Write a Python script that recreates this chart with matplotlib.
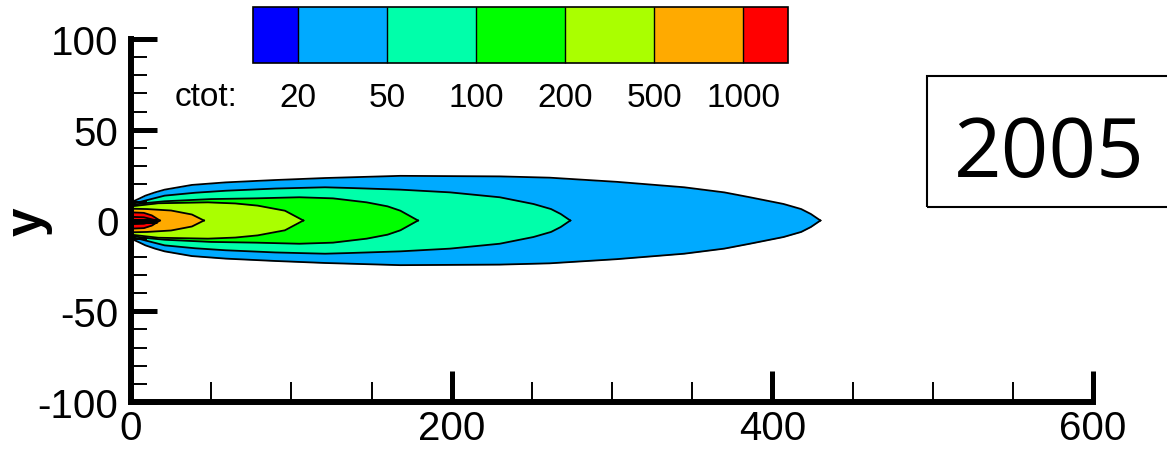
import numpy as np
import matplotlib.pyplot as plt
from matplotlib.colors import ListedColormap, BoundaryNorm
from matplotlib.cm import ScalarMappable
from matplotlib.patches import Rectangle
from matplotlib.ticker import MultipleLocator

plt.rcParams.update({"font.family": ["Liberation Sans", "DejaVu Sans"],
                     "axes.unicode_minus": False})

# ctot contour levels and their band colours (below 20 ... above 1000)
levels = [20, 50, 100, 200, 500, 1000]
band_colors = ["#0000FF", "#00AAFF", "#00FFAA", "#00FF00", "#AAFF00", "#FFAA00", "#FF0000"]
year = "2005"

# contour outlines, upper half (plume symmetric about y=0): x and half-width
c20_x = [0, 5, 9, 15, 21, 38, 59, 90, 121, 168, 230, 261, 303, 345, 370, 386, 407, 418, 424, 430]
c20_h = [10, 12, 13.7, 15.5, 17, 19.6, 21, 22.3, 23.4, 24.6, 24.3, 23.6, 21.3, 18.3, 15.5, 12.8, 9.1, 6.3, 3.6, 0]
c50_x = [0, 9, 21, 40, 59, 90, 121, 137, 168, 199, 230, 251, 262, 268, 274]
c50_h = [9, 11, 13.7, 15.3, 16.4, 17.6, 18.3, 17.9, 17, 15.5, 12.8, 9.1, 6.3, 3.6, 0]
c100_x = [0, 8, 21, 50, 78, 105, 126, 147, 160, 168, 179]
c100_h = [8.5, 9.5, 10.6, 11.8, 12.2, 12.8, 12.2, 10, 7.8, 5.4, 0]
c200_x = [0, 17, 48, 65, 79, 96, 107.5]
c200_h = [7.8, 9.5, 10, 9.4, 8.2, 5.4, 0]
c500_x = [0, 10, 25, 38, 45.5]
c500_h = [6.5, 6.3, 5.5, 3.3, 0]
c1000_x = [0, 8, 13, 18]
c1000_h = [4.5, 4.2, 2.8, 0]
core_x = [0, 8, 16]
core_h = [2.0, 1.8, 0]

W, H = 1167, 456
fig = plt.figure(figsize=(W / 100, H / 100), dpi=100)
ax = fig.add_axes([131 / W, 1 - 403 / H, 962 / W, 363 / H])

outlines = [(c20_x, c20_h), (c50_x, c50_h), (c100_x, c100_h), (c200_x, c200_h),
            (c500_x, c500_h), (c1000_x, c1000_h), (core_x, core_h)]
fills = band_colors[1:] + [band_colors[-1]]
for (xs, hs), col in zip(outlines, fills):
    xs, hs = np.asarray(xs, float), np.asarray(hs, float)
    ax.fill_between(xs, -hs, hs, color=col, lw=0, zorder=1)
    ax.plot(xs, hs, color="k", lw=1.3, zorder=1)
    ax.plot(xs, -hs, color="k", lw=1.3, zorder=1)

ax.set_xlim(0, 600)
ax.set_ylim(-100, 100)
ax.spines[["top", "right"]].set_visible(False)
for s in ("left", "bottom"):
    ax.spines[s].set_linewidth(4.3)
ax.set_xticks([0, 200, 400, 600])
ax.set_yticks([-100, -50, 0, 50, 100])
ax.xaxis.set_minor_locator(MultipleLocator(50))
ax.yaxis.set_minor_locator(MultipleLocator(10))
ax.tick_params(axis="x", which="major", direction="in", length=22, width=3.6, labelsize=29, pad=5)
ax.tick_params(axis="x", which="minor", direction="in", length=14.5, width=1.4)
ax.tick_params(axis="y", which="major", direction="in", length=19, width=3.6, labelsize=29, pad=9)
ax.tick_params(axis="y", which="minor", direction="in", length=11.5, width=1.4)
ax.set_ylabel("y", fontsize=37, fontweight="bold")
ax.yaxis.set_label_coords(-0.081, 0.5)

# colour legend
cmap = ListedColormap(band_colors[1:-1])
cmap.set_under(band_colors[0])
cmap.set_over(band_colors[-1])
norm = BoundaryNorm(levels, cmap.N)
cax = fig.add_axes([253 / W, 1 - 64 / H, 535 / W, 56 / H])
cb = fig.colorbar(ScalarMappable(norm=norm, cmap=cmap), cax=cax, orientation="horizontal",
                  extend="both", extendrect=True, extendfrac=0.1, spacing="uniform",
                  ticks=levels, drawedges=True)
cb.set_ticklabels([str(v) for v in levels])
cb.outline.set_linewidth(1.2)
cb.dividers.set_color("k")
cb.dividers.set_linewidth(1.0)
cax.tick_params(length=0, labelsize=24, pad=14)
fig.text(237 / W, 1 - 98 / H, "ctot:", ha="right", va="center", fontsize=24)

# year box
fig.add_artist(Rectangle((927 / W, 1 - 208 / H), 300 / W, 131 / H, transform=fig.transFigure,
                         fill=False, lw=1.5, ec="k", clip_on=False))
fig.text(1049 / W, 1 - 177 / H, year, ha="center", va="baseline", fontsize=60, family="Open Sans")

fig.savefig("out.png", dpi=100)
